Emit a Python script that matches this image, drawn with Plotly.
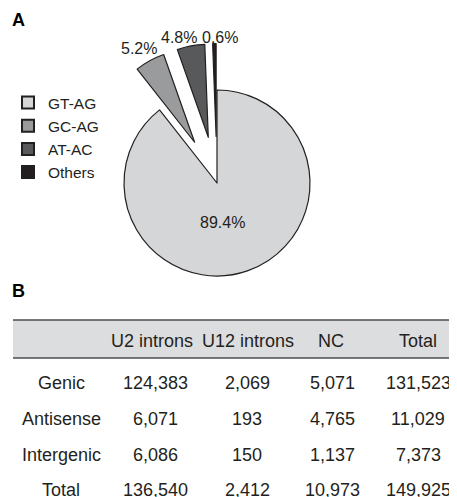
import plotly.graph_objects as go

# Pie data
splice_types = ["GT-AG", "GC-AG", "AT-AC", "Others"]
splice_pct = [89.4, 5.2, 4.8, 0.6]
splice_colors = ["#d5d6d8", "#9a9b9d", "#58595b", "#231f20"]
splice_pull = [0, 0.5, 0.5, 0.5]

# Table data
col_headers = ["U2 introns", "U12 introns", "NC", "Total"]
row_labels = ["Genic", "Antisense", "Intergenic", "Total"]
u2_vals = ["124,383", "6,071", "6,086", "136,540"]
u12_vals = ["2,069", "193", "150", "2,412"]
nc_vals = ["5,071", "4,765", "1,137", "10,973"]
total_vals = ["131,523", "11,029", "7,373", "149,925"]

PAGE_W, PAGE_H = 457, 497
OFF = 8  # default page body margin
W, H = PAGE_W - OFF, PAGE_H - OFF
FONT = "Liberation Sans, Arial, Helvetica, sans-serif"
TXT = "#231f20"

def px_x(x):
    return (x - OFF) / W

def px_y(y):
    return 1 - (y - OFF) / H

fig = go.Figure()

pie_cx, pie_cy, pie_side = 217, 183, 279
fig.add_trace(go.Pie(
    labels=splice_types,
    values=splice_pct,
    textinfo="none",
    sort=False,
    direction="clockwise",
    rotation=0,
    pull=splice_pull,
    marker=dict(colors=splice_colors, line=dict(color="#231f20", width=1.2)),
    domain=dict(x=[px_x(pie_cx - pie_side / 2), px_x(pie_cx + pie_side / 2)],
                y=[px_y(pie_cy + pie_side / 2), px_y(pie_cy - pie_side / 2)]),
    hoverinfo="label+percent",
))

annotations = []
shapes = []

# Slice labels
label_pos = [(222, 222), (139, 48), (179, 38), (220, 37)]
for (lx, ly), v in zip(label_pos, splice_pct):
    annotations.append(dict(x=px_x(lx), y=px_y(ly), xref="paper", yref="paper", text=f"{v}%",
                            showarrow=False, xanchor="center", yanchor="middle",
                            font=dict(family=FONT, size=16, color=TXT)))

# Panel letters
annotations.append(dict(x=px_x(10), y=px_y(20), xref="paper", yref="paper", text="<b>A</b>",
                        showarrow=False, xanchor="left", yanchor="middle",
                        font=dict(family=FONT, size=18, color="#000")))
annotations.append(dict(x=px_x(10), y=px_y(291), xref="paper", yref="paper", text="<b>B</b>",
                        showarrow=False, xanchor="left", yanchor="middle",
                        font=dict(family=FONT, size=18, color="#000")))

# Table header band
band_top, band_bot = 320, 358
shapes.append(dict(type="rect", xref="paper", yref="paper",
                   x0=px_x(13), x1=1, y0=px_y(band_bot), y1=px_y(band_top),
                   fillcolor="#dcdddf", line=dict(width=0), layer="below"))
for yy in (band_top, band_bot):
    shapes.append(dict(type="line", xref="paper", yref="paper",
                       x0=px_x(13), x1=1, y0=px_y(yy), y1=px_y(yy),
                       line=dict(color="#4d4d4f", width=1.5)))

header_x = [152, 248, 331, 418]
data_x = [61, 155, 247, 332, 418]
header_y = 341
row_y = [383, 419, 455, 490]
tfont = dict(family=FONT, size=18, color=TXT)

for hx, h in zip(header_x, col_headers):
    annotations.append(dict(x=px_x(hx), y=px_y(header_y), xref="paper", yref="paper", text=h,
                            showarrow=False, xanchor="center", yanchor="middle", font=tfont))

columns = [row_labels, u2_vals, u12_vals, nc_vals, total_vals]
for cx, col in zip(data_x, columns):
    for ry, val in zip(row_y, col):
        annotations.append(dict(x=px_x(cx), y=px_y(ry), xref="paper", yref="paper", text=val,
                                showarrow=False, xanchor="center", yanchor="middle", font=tfont))

fig.update_layout(
    width=W, height=H,
    margin=dict(l=0, r=0, t=0, b=0, autoexpand=False),
    paper_bgcolor="white",
    plot_bgcolor="white",
    showlegend=True,
    legend=dict(x=px_x(8), y=px_y(86), xanchor="left", yanchor="top",
                font=dict(family=FONT, size=15.5, color=TXT),
                bgcolor="rgba(0,0,0,0)", itemsizing="constant", traceorder="normal"),
    annotations=annotations,
    shapes=shapes,
)

fig.write_html("out.html")
